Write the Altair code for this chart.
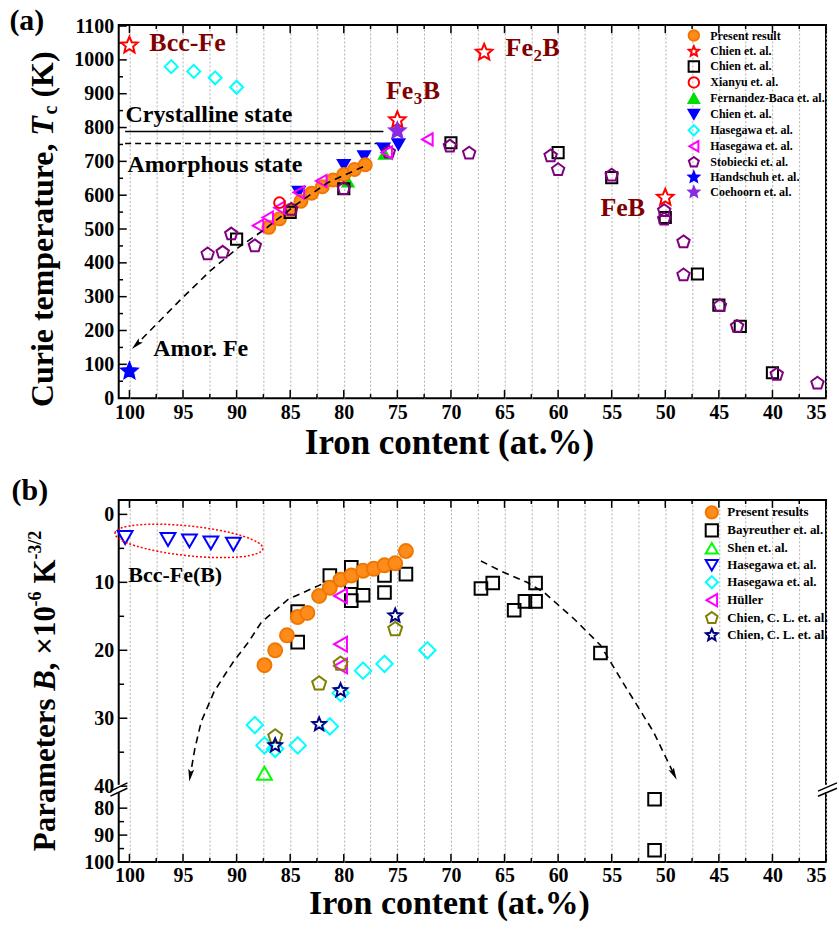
import altair as alt
import pandas as pd

FONT = "Liberation Serif"
STAR = ("M0,-1L0.2645,-0.3641L0.9511,-0.309L0.428,0.1391L0.5878,0.809L0,0.45"
        "L-0.5878,0.809L-0.428,0.1391L-0.9511,-0.309L-0.2645,-0.3641Z")
PENTA = "M0,-1L0.9511,-0.309L0.5878,0.809L-0.5878,0.809L-0.9511,-0.309Z"
ARROW = "M0,1L-0.42,-0.75L0,-0.4L0.42,-0.75Z"
ELLIPSE = "M-1,0A1,0.2,0,1,1,1,0A1,0.2,0,1,1,-1,0Z"

# ================= Panel (a): Curie temperature =================
a_present_fe = [87, 86, 85, 84, 83, 82, 81, 80, 79, 78]
a_present_tc = [505, 530, 555, 582, 606, 625, 645, 661, 676, 690]
a_chien_star_fe = [100, 75, 66.9, 50]
a_chien_star_tc = [1043, 822, 1022, 593]
a_chien_sq_fe = [90, 85, 80, 70, 60, 55, 50, 47, 45, 43, 40]
a_chien_sq_tc = [470, 549, 619, 755, 726, 652, 534, 367, 275, 212, 75]
a_xianyu_fe = [86]
a_xianyu_tc = [578]
a_fbaca_fe = [79.6, 76.2]
a_fbaca_tc = [640, 722]
a_chien_tri_fe = [84.2, 80, 78.1, 76.3, 74.9]
a_chien_tri_tc = [610, 689, 715, 738, 750]
a_hase_dia_fe = [96.1, 94, 92, 90]
a_hase_dia_tc = [980, 966, 947, 919]
a_hase_tri_fe = [88, 87.1, 86, 84.2, 82.1, 76, 72.2]
a_hase_tri_tc = [510, 534, 563, 608, 642, 726, 765]
a_stob_fe = [92.7, 91.3, 90.5, 88.3, 84.9, 80, 75.8, 70.1, 68.3, 60.7, 60, 55,
             50.1, 50.1, 48.3, 48.3, 44.9, 43.3, 39.6, 35.8]
a_stob_tc = [426, 431, 485, 450, 558, 619, 727, 745, 724, 716, 675, 659,
             554, 529, 462, 364, 273, 212, 70, 44]
a_hand_fe = [100]
a_hand_tc = [80]
a_coeh_fe = [75]
a_coeh_tc = [790]

a_guide_fe = [78.2, 81.5, 84.45, 87.4, 89.85, 92.4, 95.2, 99.3]
a_guide_tc = [684, 637, 572, 498.5, 445, 378, 292, 160]

# ================= Panel (b): parameter B =================
b_present_fe = [87.4, 86.4, 85.3, 84.3, 83.4, 82.3, 81.3, 80.3, 79.3, 78.2, 77.2, 76.2, 75.2, 74.2]
b_present_b = [22.2, 20.0, 17.8, 15.1, 14.5, 12.0, 10.8, 9.6, 9.0, 8.3, 8.0, 7.5, 7.2, 5.4]
b_bay_fe = [84.3, 84.3, 81.3, 79.3, 79.3, 79.3, 78.2, 76.2, 76.2, 74.2, 67.2, 66.1,
            64.1, 63.1, 62.1, 62.1, 56.05, 51, 51]
b_bay_b = [14.3, 18.8, 9.0, 7.8, 9.9, 12.7, 11.9, 9.0, 11.5, 8.8, 10.9, 10.1,
           14.1, 12.8, 12.8, 10.1, 20.4, 76.7, 95.6]
b_shen_fe = [87.4]
b_shen_b = [38.1]
b_hase_tri_fe = [100.4, 96.4, 94.4, 92.4, 90.3]
b_hase_tri_b = [3.4, 3.7, 3.9, 4.2, 4.4]
b_hase_dia_fe = [88.3, 87.4, 86.4, 84.3, 81.3, 80.3, 78.2, 76.2, 72.2]
b_hase_dia_b = [31.0, 34.0, 34.5, 34.0, 31.2, 26.3, 23.0, 22.0, 20.0]
b_huller_fe = [80.3, 80.3, 80.3]
b_huller_b = [12.0, 19.1, 22.3]
b_chien_pent_fe = [86.4, 82.3, 80.3, 75.2]
b_chien_pent_b = [32.7, 24.9, 22.0, 16.9]
b_chien_star_fe = [86.4, 82.3, 80.3, 75.2]
b_chien_star_b = [34.0, 30.9, 25.9, 14.9]

b_arc_left_fe = [82.1, 82.8, 85.2, 87.7, 88.9, 90.3, 91.1, 92.1, 93.3, 93.9, 94.31]
b_arc_left_b = [10.3, 10.8, 12.5, 15.9, 18.8, 21.7, 23.6, 26.1, 30.5, 34.5, 38.28]
b_arc_right_fe = [67.2, 65.4, 62.9, 61.3, 58.5, 56.05, 53.6, 51.1, 49.23]
b_arc_right_b = [6.85, 8.3, 10.0, 11.5, 15.4, 19.25, 25.65, 32.0, 38.13]

# ================= ticks =================
X_TICKS = [35, 37.5, 40, 42.5, 45, 47.5, 50, 52.5, 55, 57.5, 60, 62.5, 65, 67.5, 70,
           72.5, 75, 77.5, 80, 82.5, 85, 87.5, 90, 92.5, 95, 97.5, 100]
YA_TICKS = [0, 50, 100, 150, 200, 250, 300, 350, 400, 450, 500, 550, 600, 650, 700,
            750, 800, 850, 900, 950, 1000, 1050, 1100]
YA_LABELS = [0, 100, 200, 300, 400, 500, 600, 700, 800, 900, 1000, 1100]
YB_TICKS = [0, 5, 10, 15, 20, 25, 30, 35, 40, 80, 85, 90, 95, 100]
YB_LABELS = [0, 10, 20, 30, 40, 80, 90, 100]

# ================= styles =================
A_ORDER = ["Present result", "Chien et. al.", "Chien  et. al.", "Xianyu et. al.",
           "Fernandez-Baca et. al.", "Chien et. al. ", "Hasegawa et. al.",
           "Hasegawa et. al. ", "Stobiecki et. al.", "Handschuh et. al.", "Coehoorn et. al."]
A_STYLE = {
    "Present result": ("circle", "#FF8C1A", "#F07800", 170),
    "Chien et. al.": (STAR, "white", "#FF0000", 300),
    "Chien  et. al.": ("square", "transparent", "black", 125),
    "Xianyu et. al.": ("circle", "transparent", "#FF0000", 115),
    "Fernandez-Baca et. al.": ("triangle-up", "#00DD00", "#00DD00", 120),
    "Chien et. al. ": ("triangle-down", "#0000FF", "#0000FF", 140),
    "Hasegawa et. al.": ("diamond", "transparent", "#00FFFF", 170),
    "Hasegawa et. al. ": ("triangle-left", "transparent", "#FF00FF", 150),
    "Stobiecki et. al.": (PENTA, "transparent", "#800080", 170),
    "Handschuh et. al.": (STAR, "#0000FF", "#0000FF", 280),
    "Coehoorn et. al.": (STAR, "#8A2BE2", "#8A2BE2", 280),
}
A_SERIES = [
    ("Chien et. al. ", a_chien_tri_fe, a_chien_tri_tc),
    ("Fernandez-Baca et. al.", a_fbaca_fe, a_fbaca_tc),
    ("Present result", a_present_fe, a_present_tc),
    ("Chien  et. al.", a_chien_sq_fe, a_chien_sq_tc),
    ("Stobiecki et. al.", a_stob_fe, a_stob_tc),
    ("Hasegawa et. al. ", a_hase_tri_fe, a_hase_tri_tc),
    ("Xianyu et. al.", a_xianyu_fe, a_xianyu_tc),
    ("Hasegawa et. al.", a_hase_dia_fe, a_hase_dia_tc),
    ("Chien et. al.", a_chien_star_fe, a_chien_star_tc),
    ("Coehoorn et. al.", a_coeh_fe, a_coeh_tc),
    ("Handschuh et. al.", a_hand_fe, a_hand_tc),
]

B_ORDER = ["Present results", "Bayreuther et. al.", "Shen et. al.", "Hasegawa et. al.",
           "Hasegawa et. al. ", "Hüller", "Chien, C. L. et. al.", "Chien, C. L. et. al. "]
B_STYLE = {
    "Present results": ("circle", "#FF8C1A", "#F07800", 196),
    "Bayreuther et. al.": ("square", "transparent", "black", 160),
    "Shen et. al.": ("triangle-up", "transparent", "#00FF00", 220),
    "Hasegawa et. al.": ("triangle-down", "transparent", "#0000FF", 220),
    "Hasegawa et. al. ": ("diamond", "transparent", "#00FFFF", 270),
    "Hüller": ("triangle-left", "transparent", "#FF00FF", 220),
    "Chien, C. L. et. al.": (PENTA, "transparent", "#808000", 215),
    "Chien, C. L. et. al. ": (STAR, "transparent", "#000080", 200),
}
B_SERIES = [
    ("Bayreuther et. al.", b_bay_fe, b_bay_b),
    ("Present results", b_present_fe, b_present_b),
    ("Shen et. al.", b_shen_fe, b_shen_b),
    ("Hasegawa et. al.", b_hase_tri_fe, b_hase_tri_b),
    ("Hasegawa et. al. ", b_hase_dia_fe, b_hase_dia_b),
    ("Hüller", b_huller_fe, b_huller_b),
    ("Chien, C. L. et. al.", b_chien_pent_fe, b_chien_pent_b),
    ("Chien, C. L. et. al. ", b_chien_star_fe, b_chien_star_b),
]


def x_axis(title_y, title_size):
    return alt.Axis(values=X_TICKS, format="d",
                    labelExpr="datum.value % 5 === 0 ? datum.label : ''",
                    labelOverlap=False, grid=True, gridDash=[2, 2], gridColor="#b0b0b0",
                    gridWidth=1, ticks=False, tickSize=0, domain=False,
                    labelFont=FONT, labelFontSize=20, labelFontWeight="bold",
                    labelColor="black", labelPadding=4,
                    title="Iron content (at.%)", titleFont=FONT, titleFontSize=title_size,
                    titleFontWeight="bold", titleColor="black", titleX=331,
                    titleY=title_y, titleAlign="center", titleBaseline="middle")


def y_axis(vals):
    return alt.Axis(values=vals, format="d", grid=False, ticks=False, tickSize=0,
                    domain=False, labelFont=FONT, labelFontSize=20, labelFontWeight="bold",
                    labelColor="black", labelPadding=5, labelOverlap=False, title=None)


class Panel:
    def __init__(self, xs, ys, xax, yax):
        self.xs, self.ys, self.xax, self.yax = xs, ys, xax, yax

    def X(self, f="x"):
        return alt.X(f"{f}:Q", scale=self.xs, axis=self.xax)

    def Y(self, f="y"):
        return alt.Y(f"{f}:Q", scale=self.ys, axis=self.yax)

    def scatter(self, series, style, order, leg):
        sh = alt.Scale(domain=order, range=[style[n][0] for n in order])
        fi = alt.Scale(domain=order, range=[style[n][1] for n in order])
        st = alt.Scale(domain=order, range=[style[n][2] for n in order])
        layers = []
        for name, xs, ys in series:
            df = pd.DataFrame({"x": xs, "y": ys, "s": [name] * len(xs)})
            layers.append(alt.Chart(df).mark_point(
                filled=False, opacity=1, strokeWidth=2, size=style[name][3]).encode(
                x=self.X(), y=self.Y(),
                shape=alt.Shape("s:N", scale=sh, legend=leg),
                fill=alt.Fill("s:N", scale=fi, legend=leg),
                stroke=alt.Stroke("s:N", scale=st, legend=leg)))
        return layers

    def rules(self, rows, color="black", width=1.5, dash=None):
        df = pd.DataFrame(rows)
        kw = dict(color=color, strokeWidth=width)
        if dash:
            kw["strokeDash"] = dash
        return alt.Chart(df).mark_rule(**kw).encode(
            x=self.X(), x2="x2:Q", y=self.Y(), y2="y2:Q")

    def texts(self, rows, size, color="black", align="left", angle=0, style="normal",
              dx=0, dy=0):
        df = pd.DataFrame(rows, columns=["x", "y", "t"])
        return alt.Chart(df).mark_text(
            font=FONT, fontWeight="bold", fontSize=size, color=color, align=align,
            baseline="middle", angle=angle, fontStyle=style, dx=dx, dy=dy).encode(
            x=self.X(), y=self.Y(), text="t:N")

    def guide(self, fe, val):
        df = pd.DataFrame({"x": fe, "y": val, "o": list(range(len(fe)))})
        return alt.Chart(df).mark_line(color="black", strokeWidth=1.6,
                                       strokeDash=[7, 5]).encode(
            x=self.X(), y=self.Y(), order="o:Q")

    def arrows(self, fe, val, ang):
        df = pd.DataFrame({"x": fe, "y": val, "ang": ang})
        return alt.Chart(df).mark_point(shape=ARROW, filled=True, color="black",
                                        opacity=1, size=200).encode(
            x=self.X(), y=self.Y(), angle=alt.Angle("ang:Q", scale=None))


xs = alt.Scale(domain=[35, 101], reverse=True, nice=False, zero=False)

# ---------------- panel (a) ----------------
ys_a = alt.Scale(domain=[0, 1103], nice=False, zero=False)
pa = Panel(xs, ys_a, x_axis(44, 35), y_axis(YA_LABELS))

ticks_a = []
for v in X_TICKS:
    L = 24 if v % 5 == 0 else 12
    ticks_a.append({"x": v, "x2": v, "y": 0, "y2": L})
    ticks_a.append({"x": v, "x2": v, "y": 1103, "y2": 1103 - L})
for v in YA_TICKS:
    L = 0.75 if v % 100 == 0 else 0.4
    ticks_a.append({"x": 101, "x2": 101 - L, "y": v, "y2": v})

leg_a = alt.Legend(title=None, orient="none", legendX=570, legendY=4, labelFont=FONT,
                   labelFontWeight="bold", labelFontSize=12, labelColor="black",
                   symbolSize=110, symbolStrokeWidth=2, rowPadding=-3.4, labelOffset=10,
                   padding=0, labelLimit=300)

TA = 776  # anchor of the rotated y title
panel_a = alt.layer(
    pa.rules(ticks_a),
    pa.rules([{"x": 100.4, "x2": 76.3, "y": 788, "y2": 788}], width=1.5),
    pa.rules([{"x": 100.4, "x2": 76.7, "y": 753, "y2": 753}], width=1.5, dash=[6, 4]),
    *pa.scatter(A_SERIES, A_STYLE, A_ORDER, leg_a),
    pa.guide(a_guide_fe, a_guide_tc),
    pa.arrows([99.3], [160], [46]),
    pa.texts([(98.14, 1050, "Bcc-Fe"), (64.9, 1035, "Fe"), (76.07, 908, "Fe"),
              (56.05, 563, "FeB")], 26, color="#800000"),
    pa.texts([(64.9, 1035, "2"), (76.07, 908, "3")], 17, color="#800000", dx=28, dy=8),
    pa.texts([(64.9, 1035, "B"), (76.07, 908, "B")], 26, color="#800000", dx=37),
    pa.texts([(100.37, 838, "Crystalline state"), (100.19, 690, "Amorphous state"),
              (97.77, 145, "Amor. Fe")], 24),
    pa.texts([(111.2, 1115, "(a)")], 30),
    pa.texts([(108.1, TA, "Curie temperature,")], 32, align="right", angle=270, dx=-8),
    pa.texts([(108.1, TA, "T")], 32, angle=270, style="italic"),
    pa.texts([(108.1, TA, "c")], 20, angle=270, dx=21.3, dy=8),
    pa.texts([(108.1, TA, "(K)")], 32, angle=270, dx=38.2),
).properties(width=709, height=374)

# ---------------- panel (b) ----------------
ys_b = alt.Scale(domain=[-2.13, 40.3, 72.6, 100], range=[0, 289, 289, 363],
                 nice=False, zero=False)
pb = Panel(xs, ys_b, x_axis(42, 34), y_axis(YB_LABELS))

ticks_b = []
for v in X_TICKS:
    major = v % 5 == 0
    ticks_b.append({"x": v, "x2": v, "y": 100, "y2": 100 - (3.0 if major else 1.5)})
    ticks_b.append({"x": v, "x2": v, "y": -2.13, "y2": -2.13 + (1.17 if major else 0.6)})
for v in YB_TICKS:
    L = 0.8 if v % 10 == 0 else 0.5
    ticks_b.append({"x": 101, "x2": 101 - L, "y": v, "y2": v})

breaks_white = [{"x": 101, "x2": 101, "y": 39.8, "y2": 74.1},
                {"x": 35, "x2": 35, "y": 39.8, "y2": 74.1}]
breaks_black = [{"x": 101.77, "x2": 100.19, "y": 73.7, "y2": 39.51},
                {"x": 101.77, "x2": 100.19, "y": 75.56, "y2": 72.6},
                {"x": 35.75, "x2": 33.98, "y": 73.7, "y2": 39.51},
                {"x": 35.75, "x2": 33.98, "y": 75.56, "y2": 72.6}]

leg_b = alt.Legend(title=None, orient="none", legendX=587, legendY=5, labelFont=FONT,
                   labelFontWeight="bold", labelFontSize=13, labelColor="black",
                   symbolSize=150, symbolStrokeWidth=2, rowPadding=-4.1, labelOffset=8,
                   padding=0, labelLimit=300)

ellipse = alt.Chart(pd.DataFrame({"x": [94.45], "y": [3.9]})).mark_point(
    shape=ELLIPSE, size=22201, filled=False, color="#FF0000", strokeWidth=1.5,
    strokeDash=[2, 2], angle=6, opacity=1).encode(x=pb.X(), y=pb.Y())

TB = 25.96
panel_b = alt.layer(
    pb.rules(ticks_b),
    pb.guide(b_arc_left_fe, b_arc_left_b),
    pb.guide(b_arc_right_fe, b_arc_right_b),
    pb.arrows([94.31, 49.23], [38.28, 38.13], [9, 333.4]),
    *pb.scatter(B_SERIES, B_STYLE, B_ORDER, leg_b),
    ellipse,
    pb.texts([(100.1, 8.9, "Bcc-Fe(B)")], 22),
    pb.texts([(111.0, -3.45, "(b)")], 30),
    pb.texts([(107.82, TB, "Parameters")], 31, align="right", angle=270, dx=-7.7),
    pb.texts([(107.82, TB, "B")], 31, angle=270, style="italic"),
    pb.texts([(107.82, TB, ", ×10")], 31, angle=270, dx=20.7),
    pb.texts([(107.82, TB, "-6")], 18, angle=270, dx=84.5, dy=-10),
    pb.texts([(107.82, TB, "K")], 31, angle=270, dx=107.5),
    pb.texts([(107.82, TB, "-3/2")], 18, angle=270, dx=131.5, dy=-10),
    pb.rules(breaks_white, color="white", width=5),
    pb.rules(breaks_black, width=1.5),
).properties(width=709, height=363)

chart = alt.vconcat(panel_a, panel_b, spacing=14).resolve_scale(
    x="independent", y="independent", shape="independent", fill="independent",
    stroke="independent").resolve_legend(
    shape="independent", fill="independent", stroke="independent").properties(
    padding={"left": 8, "top": 3, "right": 0, "bottom": 0}, background="white"
).configure_view(stroke="black", strokeWidth=2)

chart.save("out.html", embed_options={"renderer": "svg", "actions": False})
